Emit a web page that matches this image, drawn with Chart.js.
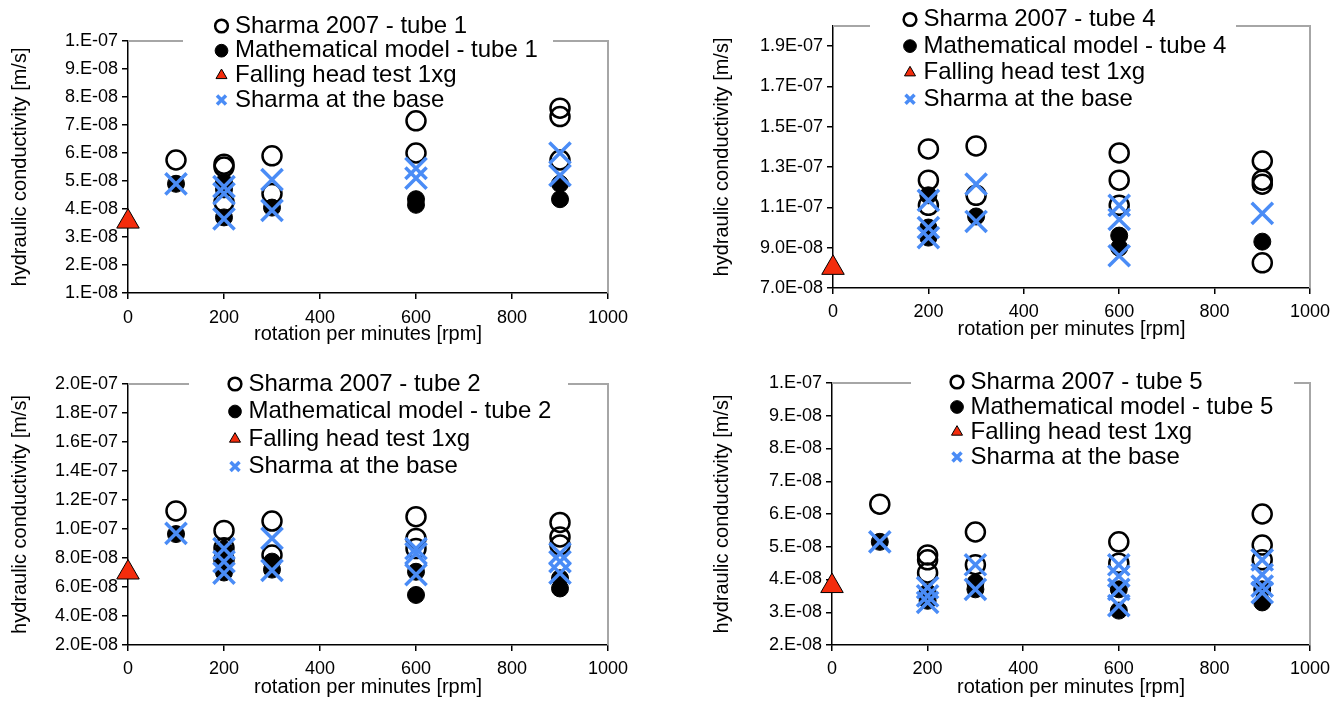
<!DOCTYPE html>
<html>
<head>
<meta charset="utf-8">
<script src="https://cdn.jsdelivr.net/npm/chart.js@4.4.0/dist/chart.umd.min.js"></script>
<style>
  body { margin: 0; background: #fff; }
  #wrap { position: relative; width: 1343px; height: 704px; }
  canvas { position: absolute; }
</style>
</head>
<body>
<div id="wrap">
  <canvas id="tube1" width="671" height="352" style="left:0px;top:0px"></canvas>
  <canvas id="tube4" width="671" height="352" style="left:672px;top:0px"></canvas>
  <canvas id="tube2" width="671" height="352" style="left:0px;top:352px"></canvas>
  <canvas id="tube5" width="671" height="352" style="left:672px;top:352px"></canvas>
</div>
<script>
// rpm groups, each series lists its values per group (m/s)
const rpm = [100, 200, 300, 600, 900];

const sharmaTube1 = [[5.75e-8], [5.6e-8, 5.5e-8, 4.25e-8], [5.9e-8, 4.55e-8], [7.15e-8, 6.0e-8], [7.6e-8, 7.3e-8, 5.75e-8]];
const modelTube1  = [[4.9e-8], [4.95e-8, 4.7e-8, 3.7e-8], [4.05e-8], [4.35e-8, 4.15e-8], [4.9e-8, 4.35e-8]];
const baseTube1   = [[4.9e-8], [4.8e-8, 4.55e-8, 3.65e-8], [5.05e-8, 3.95e-8], [5.45e-8, 5.1e-8], [6.0e-8, 5.2e-8]];
const fallingTube1 = 3.55e-8;

const sharmaTube4 = [[], [1.39e-7, 1.235e-7, 1.11e-7], [1.405e-7, 1.16e-7], [1.37e-7, 1.235e-7, 1.11e-7], [1.33e-7, 1.235e-7, 1.215e-7, 8.25e-8]];
const modelTube4  = [[], [1.16e-7, 1.0e-7, 9.5e-8], [1.055e-7], [9.6e-8, 9.0e-8], [9.3e-8]];
const baseTube4   = [[], [1.135e-7, 1.0e-7, 9.5e-8], [1.215e-7, 1.03e-7], [1.11e-7, 1.04e-7, 8.6e-8], [1.07e-7]];
const fallingTube4 = 8.0e-8;

const sharmaTube2 = [[1.125e-7], [9.9e-8, 8.7e-8, 7.9e-8], [1.055e-7, 8.2e-8], [1.085e-7, 9.35e-8, 8.65e-8], [1.045e-7, 9.45e-8, 8.9e-8]];
const modelTube2  = [[9.65e-8], [8.6e-8, 7.9e-8, 7.0e-8], [7.75e-8, 7.2e-8], [7.05e-8, 5.45e-8], [6.6e-8, 5.9e-8]];
const baseTube2   = [[9.7e-8], [8.65e-8, 7.75e-8, 6.95e-8], [9.35e-8, 7.15e-8], [8.65e-8, 8.3e-8, 6.85e-8], [8.3e-8, 7.75e-8, 6.95e-8]];
const fallingTube2 = 7.0e-8;

const sharmaTube5 = [[6.3e-8], [4.75e-8, 4.6e-8, 4.2e-8], [5.45e-8, 4.45e-8], [5.15e-8, 4.5e-8], [6.0e-8, 5.05e-8, 4.6e-8]];
const modelTube5  = [[5.15e-8], [3.6e-8, 3.35e-8], [3.9e-8, 3.7e-8], [3.7e-8, 3.05e-8], [3.7e-8, 3.3e-8]];
const baseTube5   = [[5.15e-8], [3.75e-8, 3.5e-8, 3.3e-8], [4.45e-8, 3.7e-8], [4.45e-8, 4.1e-8, 3.7e-8, 3.2e-8], [4.6e-8, 4.15e-8, 3.8e-8, 3.6e-8]];
const fallingTube5 = 3.8e-8;

// tick values and labels
const xTicks = [0, 200, 400, 600, 800, 1000];
const xLabels = ["0", "200", "400", "600", "800", "1000"];

const yTicksTube1 = [1e-8, 2e-8, 3e-8, 4e-8, 5e-8, 6e-8, 7e-8, 8e-8, 9e-8, 1e-7];
const yLabelsTube1 = ["1.E-08", "2.E-08", "3.E-08", "4.E-08", "5.E-08", "6.E-08", "7.E-08", "8.E-08", "9.E-08", "1.E-07"];
const yTicksTube4 = [7e-8, 9e-8, 1.1e-7, 1.3e-7, 1.5e-7, 1.7e-7, 1.9e-7];
const yLabelsTube4 = ["7.0E-08", "9.0E-08", "1.1E-07", "1.3E-07", "1.5E-07", "1.7E-07", "1.9E-07"];
const yTicksTube2 = [2e-8, 4e-8, 6e-8, 8e-8, 1e-7, 1.2e-7, 1.4e-7, 1.6e-7, 1.8e-7, 2e-7];
const yLabelsTube2 = ["2.0E-08", "4.0E-08", "6.0E-08", "8.0E-08", "1.0E-07", "1.2E-07", "1.4E-07", "1.6E-07", "1.8E-07", "2.0E-07"];
const yTicksTube5 = [2e-8, 3e-8, 4e-8, 5e-8, 6e-8, 7e-8, 8e-8, 9e-8, 1e-7];
const yLabelsTube5 = ["2.E-08", "3.E-08", "4.E-08", "5.E-08", "6.E-08", "7.E-08", "8.E-08", "9.E-08", "1.E-07"];

const FONT = "'Liberation Sans', Arial, Helvetica, sans-serif";
const LEG_SIZE = 24;

const panels = [
  { id: "tube1", tube: "tube 1", sharma: sharmaTube1, model: modelTube1, base: baseTube1, falling: fallingTube1,
    yTicks: yTicksTube1, yLabels: yLabelsTube1, yMin: 1e-8, yMax: 1e-7,
    cx: 0, cy: 0, L: 128, T: 41, R: 608, B: 293, yTitleX: 20, xLabelY: 318, xTitleY: 334,
    legX: 221.5, legY: 26, legStep: 24.7, gap: [183, 553] },
  { id: "tube4", tube: "tube 4", sharma: sharmaTube4, model: modelTube4, base: baseTube4, falling: fallingTube4,
    yTicks: yTicksTube4, yLabels: yLabelsTube4, yMin: 7e-8, yMax: 2e-7,
    cx: 672, cy: 0, L: 833, T: 26, R: 1310, B: 288, yTitleX: 722, xLabelY: 312, xTitleY: 329,
    legX: 910, legY: 19.5, legStep: 26.6, gap: [870, 1236] },
  { id: "tube2", tube: "tube 2", sharma: sharmaTube2, model: modelTube2, base: baseTube2, falling: fallingTube2,
    yTicks: yTicksTube2, yLabels: yLabelsTube2, yMin: 2e-8, yMax: 2e-7,
    cx: 0, cy: 352, L: 128, T: 384, R: 608, B: 645, yTitleX: 20, xLabelY: 669, xTitleY: 687,
    legX: 235, legY: 384, legStep: 27.5, gap: [189, 568] },
  { id: "tube5", tube: "tube 5", sharma: sharmaTube5, model: modelTube5, base: baseTube5, falling: fallingTube5,
    yTicks: yTicksTube5, yLabels: yLabelsTube5, yMin: 2e-8, yMax: 1e-7,
    cx: 672, cy: 352, L: 832, T: 383, R: 1310, B: 645, yTitleX: 722, xLabelY: 669, xTitleY: 687,
    legX: 957, legY: 382, legStep: 25, gap: [911, 1294] }
];

function toPoints(vals) {
  return rpm.flatMap((r, i) => vals[i].map(v => ({ x: r, y: v })));
}

// grey top/right frame with a gap behind the legend, and legend placement
const framePlugin = {
  id: "frame",
  afterLayout(chart, args, o) {
    const lg = chart.legend;
    const w = lg.width;
    lg.left = o.legX - o.legPad - o.boxW / 2;
    lg.top = o.legY - o.legPad - o.fontSize / 2;
    lg.right = lg.left + w;
    lg.bottom = lg.top + 400;
    // markers sit partly outside the legend box, so skip its clipping
    lg.draw = function () {
      if (this.options.display) this._draw();
    };
  },
  beforeDatasetsDraw(chart, args, o) {
    const { ctx, chartArea: a } = chart;
    ctx.save();
    ctx.strokeStyle = "#a6a6a6";
    ctx.lineWidth = 2;
    ctx.beginPath();
    ctx.moveTo(a.left, a.top);
    ctx.lineTo(o.gap[0], a.top);
    ctx.moveTo(o.gap[1], a.top);
    ctx.lineTo(a.right, a.top);
    ctx.lineTo(a.right, a.bottom);
    ctx.stroke();
    ctx.restore();
  }
};

panels.forEach(p => {
  const H = 352, W = 671;
  const titleHalf = 20 * 1.2 / 2;
  const tickHalf = 18 * 1.2 / 2;
  const padLeft = p.yTitleX - p.cx - titleHalf;
  const yWidth = p.L - p.cx - padLeft;
  const scaleBottom = p.xTitleY - p.cy + titleHalf;
  const padBottom = H - scaleBottom;
  const xHeight = scaleBottom - (p.B - p.cy);
  const legPad = Math.max(p.legStep - LEG_SIZE, 0);

  new Chart(document.getElementById(p.id), {
    type: "scatter",
    data: {
      datasets: [
        {
          label: "Sharma 2007 - " + p.tube,
          data: toPoints(p.sharma),
          pointStyle: "circle",
          pointRadius: 9.5,
          pointBorderWidth: 2.5,
          pointBorderColor: "#000",
          pointBackgroundColor: "rgba(255,255,255,0)",
          borderColor: "#000",
          backgroundColor: "rgba(255,255,255,0)",
          clip: false,
          order: 4
        },
        {
          label: "Mathematical model - " + p.tube,
          data: toPoints(p.model),
          pointStyle: "circle",
          pointRadius: 8.5,
          pointBorderWidth: 1,
          pointBorderColor: "#000",
          pointBackgroundColor: "#000",
          borderColor: "#000",
          backgroundColor: "#000",
          clip: false,
          order: 3
        },
        {
          label: "Falling head test 1xg",
          data: [{ x: 0, y: p.falling }],
          pointStyle: "triangle",
          pointRadius: 13,
          pointBorderWidth: 1,
          pointBorderColor: "#000",
          pointBackgroundColor: "#f42c0c",
          borderColor: "#000",
          backgroundColor: "#f42c0c",
          clip: false,
          order: 2
        },
        {
          label: "Sharma at the base",
          data: toPoints(p.base),
          pointStyle: "crossRot",
          pointRadius: 15,
          pointBorderWidth: 3.5,
          pointBorderColor: "#4a8cf6",
          pointBackgroundColor: "#4a8cf6",
          borderColor: "#4a8cf6",
          backgroundColor: "#4a8cf6",
          clip: false,
          order: 1
        }
      ]
    },
    options: {
      responsive: false,
      animation: false,
      events: [],
      layout: {
        padding: { left: padLeft, top: p.T - p.cy, right: p.cx + W - p.R, bottom: padBottom }
      },
      scales: {
        x: {
          type: "linear",
          min: 0,
          max: 1000,
          afterBuildTicks: s => { s.ticks = xTicks.map(v => ({ value: v })); },
          afterFit: s => { s.height = xHeight; },
          ticks: {
            autoSkip: false,
            maxRotation: 0,
            padding: p.xLabelY - p.B - 6 - tickHalf,
            color: "#000",
            font: { family: FONT, size: 18 },
            callback: (v, i) => xLabels[i]
          },
          grid: { display: true, drawOnChartArea: false, drawTicks: true, tickLength: 6, color: "#000", lineWidth: 1.5 },
          border: { display: true, color: "#000", width: 1.5 },
          title: {
            display: true,
            text: "rotation per minutes [rpm]",
            color: "#000",
            padding: 0,
            font: { family: FONT, size: 20 }
          }
        },
        y: {
          type: "linear",
          min: p.yMin,
          max: p.yMax,
          afterBuildTicks: s => { s.ticks = p.yTicks.map(v => ({ value: v })); },
          afterFit: s => { s.width = yWidth; },
          ticks: {
            autoSkip: false,
            padding: 4,
            color: "#000",
            font: { family: FONT, size: 18 },
            callback: (v, i) => p.yLabels[i]
          },
          grid: { display: true, drawOnChartArea: false, drawTicks: true, tickLength: 6, color: "#000", lineWidth: 1.5 },
          border: { display: true, color: "#000", width: 1.5 },
          title: {
            display: true,
            text: "hydraulic conductivity [m/s]",
            color: "#000",
            padding: 0,
            font: { family: FONT, size: 20 }
          }
        }
      },
      plugins: {
        tooltip: { enabled: false },
        legend: {
          position: "chartArea",
          align: "start",
          labels: {
            usePointStyle: true,
            boxWidth: 3,
            boxHeight: 9,
            padding: legPad,
            color: "#000",
            font: { family: FONT, size: LEG_SIZE },
            sort: (a, b) => a.datasetIndex - b.datasetIndex
          }
        },
        frame: {
          legX: p.legX - p.cx,
          legY: p.legY - p.cy,
          legPad: legPad,
          boxW: 3,
          fontSize: LEG_SIZE,
          gap: [p.gap[0] - p.cx, p.gap[1] - p.cx]
        }
      }
    },
    plugins: [framePlugin]
  });
});
</script>
</body>
</html>
